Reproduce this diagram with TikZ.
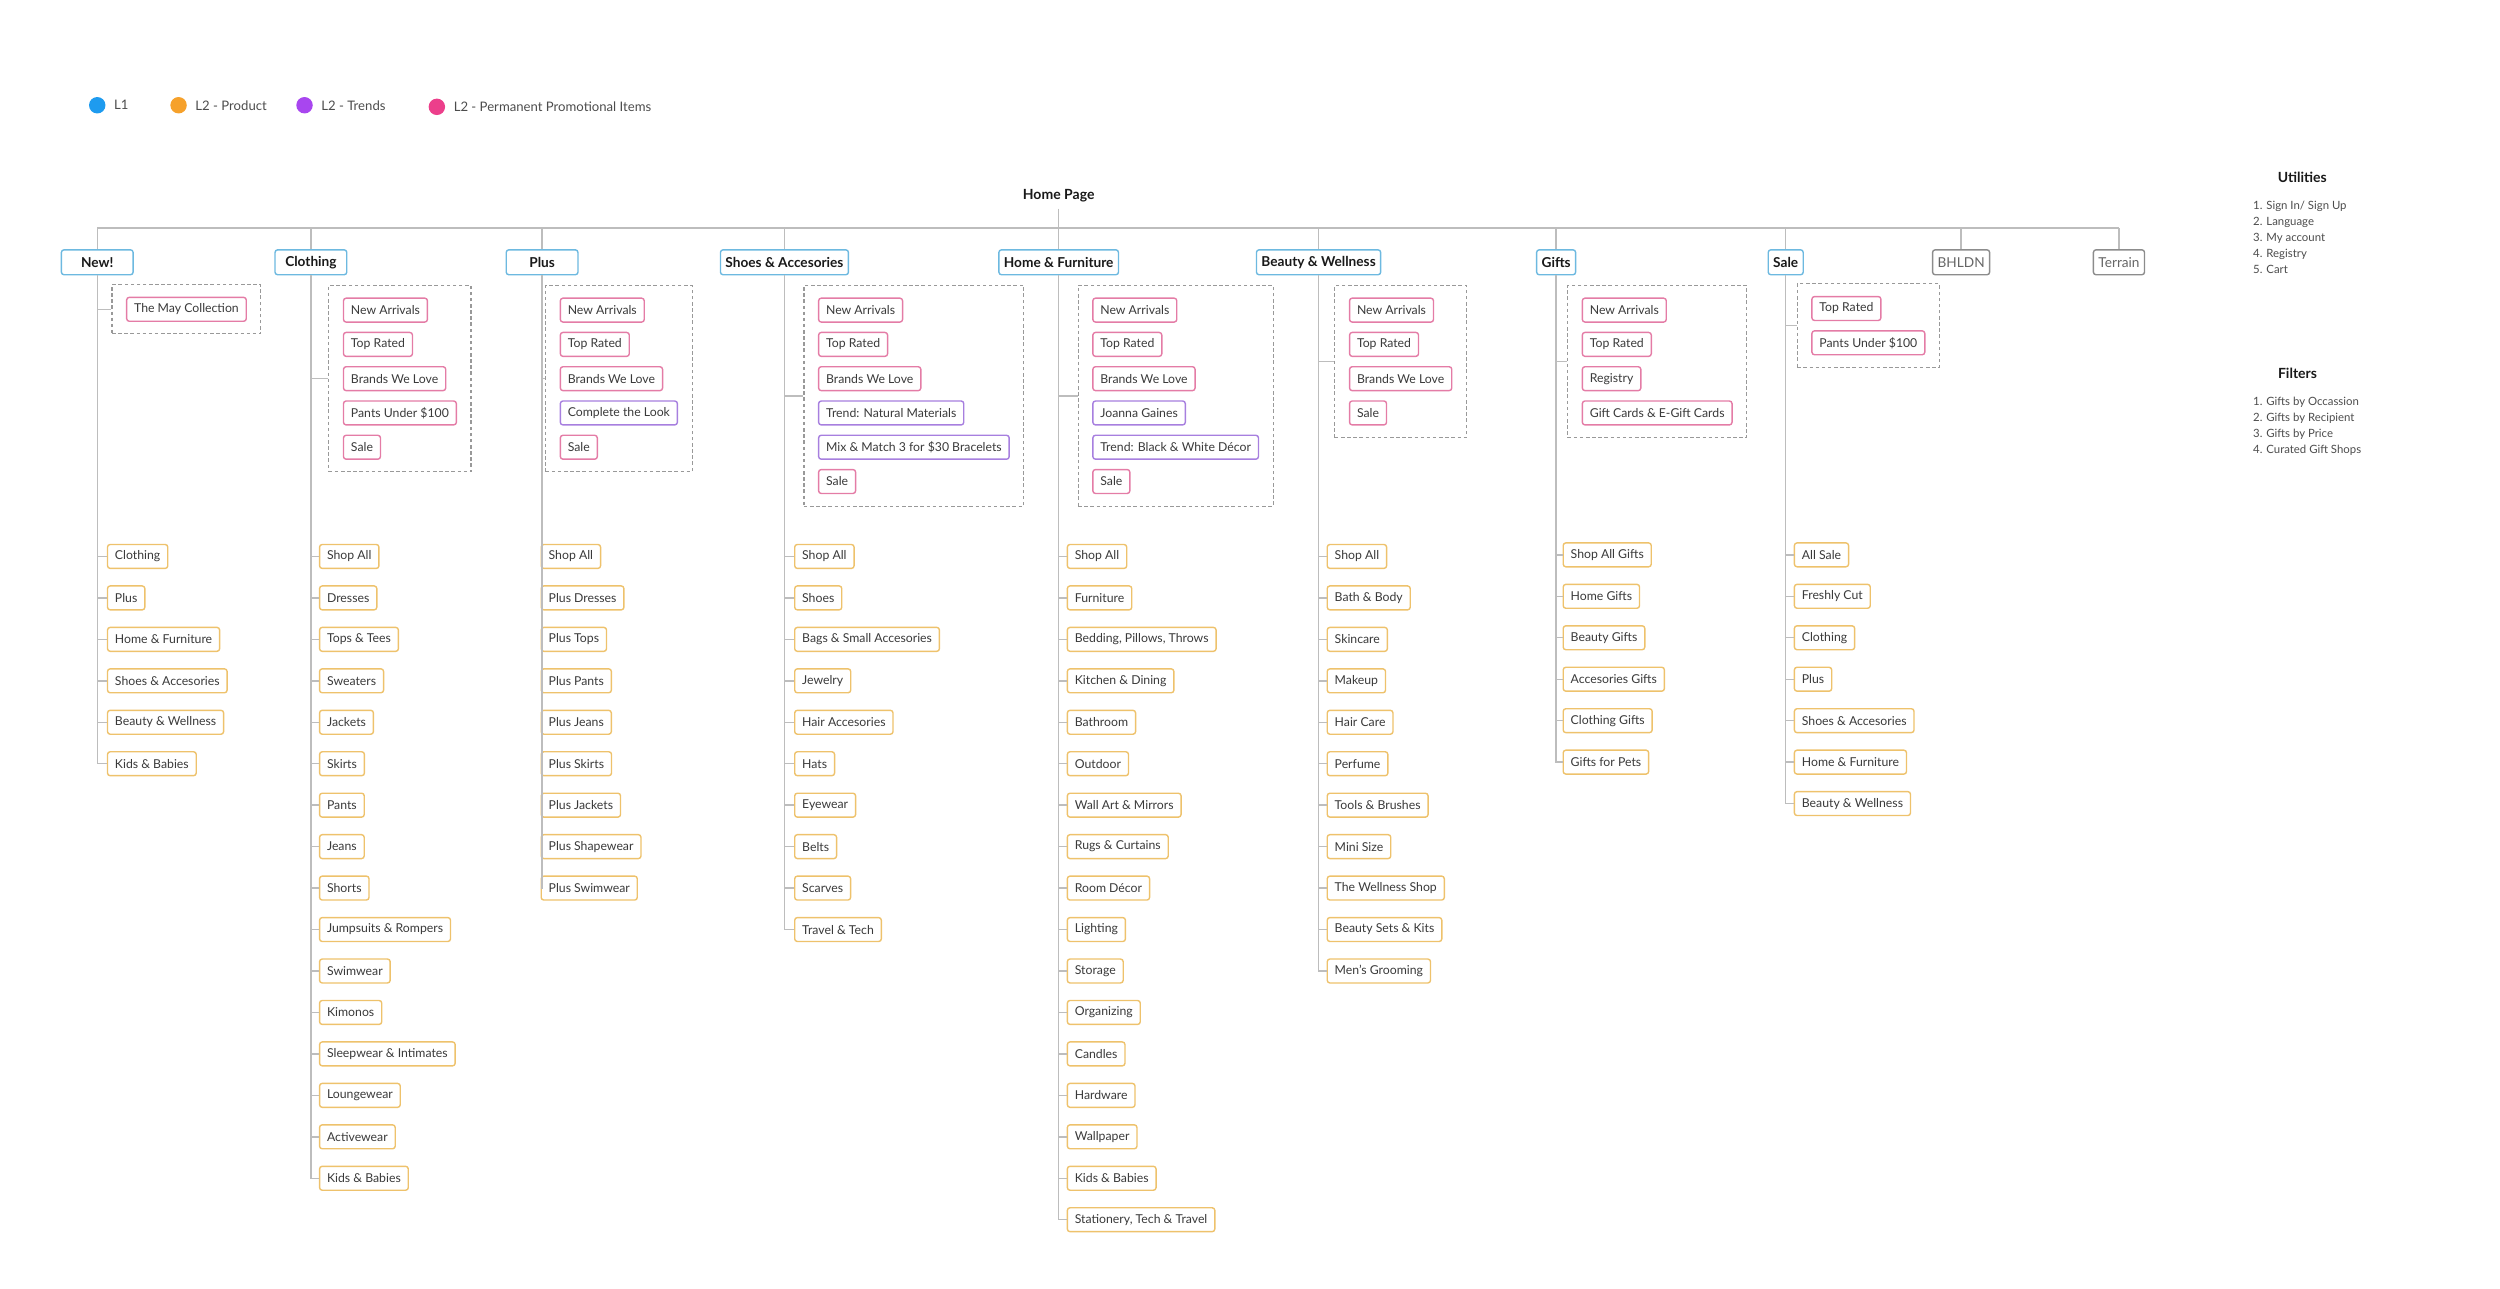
\documentclass[tikz,border=0pt]{standalone}
\usepackage{fontspec}
\setmainfont{Lato}
\usetikzlibrary{fit,positioning}

\definecolor{lonedot}{HTML}{1E9BEF}
\definecolor{proddot}{HTML}{F6A12B}
\definecolor{trenddot}{HTML}{A846EF}
\definecolor{promodot}{HTML}{EC3F8B}
\definecolor{loneline}{HTML}{6DB9E0}
\definecolor{prodline}{HTML}{EEC26C}
\definecolor{trendline}{HTML}{A77FDF}
\definecolor{promoline}{HTML}{E47CA6}
\definecolor{sideline}{HTML}{8C8C8C}
\definecolor{wire}{HTML}{BDBDBD}
\definecolor{ink}{HTML}{3A3A3A}

\begin{document}
\begin{tikzpicture}[x=0.032cm, y=-0.032cm,
  lone/.style={rectangle, rounded corners=1.5pt, draw=loneline, line width=0.8pt, fill=white, text=black!90, font=\bfseries\fontsize{7.8}{9}\selectfont, minimum height=0.5cm, inner xsep=0.1cm},
  wide/.style={lone, minimum width=1.44cm},
  side/.style={lone, draw=sideline, text=black!60, font=\fontsize{7.8}{9}\selectfont},
  item/.style={rectangle, rounded corners=1.5pt, draw=prodline, line width=0.8pt, fill=white, text=ink, font=\fontsize{7}{8}\selectfont, minimum height=0.48cm, inner xsep=0.15cm, anchor=west},
  promo/.style={item, draw=promoline},
  trend/.style={item, draw=trendline},
  group/.style={draw=black!40, line width=0.6pt, dash pattern=on 2pt off 1.5pt, inner xsep=0.28cm, inner ysep=0.24cm},
  link/.style={draw=wire, line width=0.8pt},
  dot/.style={circle, inner sep=0pt, minimum size=0.33cm},
  key/.style={text=black!70, font=\fontsize{7.5}{9}\selectfont, inner sep=0pt},
  head/.style={font=\bfseries\fontsize{8}{9}\selectfont, text=black!90},
  list/.style={font=\fontsize{6.5}{9.1}\selectfont, text=black!70, align=left, inner sep=0pt, anchor=north west}]
\useasboundingbox (0,0) rectangle (1568,808);

% legend
\node (dotlone) [dot, fill=lonedot] at (61,66) {};
\node (keylone) [key, right=0.16cm of dotlone] {L1};
\node (dotprod) [dot, fill=proddot] at (112,66) {};
\node (keyprod) [key, right=0.16cm of dotprod] {L2 - Product};
\node (dottrend) [dot, fill=trenddot] at (191,66) {};
\node (keytrend) [key, right=0.16cm of dottrend] {L2 - Trends};
\node (dotpromo) [dot, fill=promodot] at (274,67) {};
\node (keypromo) [key, right=0.16cm of dotpromo] {L2 - Permanent Promotional Items};

% utilities and filters
\node (utilhead) [head] at (1444,111) {Utilities};
\node (utillist) [list] at (1413,126) {1. Sign In/ Sign Up\\2. Language\\3. My account\\4. Registry\\5. Cart};
\node (filthead) [head] at (1441,234) {Filters};
\node (filtlist) [list] at (1413,249) {1. Gifts by Occassion\\2. Gifts by Recipient\\3. Gifts by Price\\4. Curated Gift Shops};

% top level
\node (home) [head] at (664,123) {Home Page};
\node (new) [wide] at (61,164.5) {New!};
\node (clothing) [wide] at (195,164.5) {Clothing};
\node (plus) [wide] at (340,164.5) {Plus};
\node (shoes) [lone] at (492,164.5) {Shoes \& Accesories};
\node (homefurn) [lone] at (664,164.5) {Home \& Furniture};
\node (beauty) [lone] at (827,164.5) {Beauty \& Wellness};
\node (gifts) [lone] at (976,164.5) {Gifts};
\node (sale) [lone] at (1120,164.5) {Sale};
\node (bhldn) [side] at (1230,164.5) {BHLDN};
\node (terrain) [side] at (1329,164.5) {Terrain};

\coordinate (bus) at (664,143);
\draw[link] (home.south) -- (bus);
\draw[link] (bus -| new) -- (bus -| terrain);
\draw[link] (bus -| new) -- (new.north) (bus -| clothing) -- (clothing.north)
  (bus -| plus) -- (plus.north) (bus -| shoes) -- (shoes.north)
  (bus -| beauty) -- (beauty.north) (bus -| gifts) -- (gifts.north)
  (bus -| sale) -- (sale.north) (bus -| bhldn) -- (bhldn.north)
  (bus -| terrain) -- (terrain.north);
\draw[link] (bus) -- (homefurn.north);

% promotional groups
\node (nm1) [promo] at (79,194) {The May Collection};
\node (newgroup) [group, fit=(nm1)] {};

\node (cp1) [promo] at (215,194.5) {New Arrivals};
\node (cp2) [promo] at (215,216) {Top Rated};
\node (cp3) [promo] at (215,237.5) {Brands We Love};
\node (cp4) [promo] at (215,259) {Pants Under \$100};
\node (cp5) [promo] at (215,280.5) {Sale};
\node (clogroup) [group, fit=(cp1)(cp2)(cp3)(cp4)(cp5)] {};

\node (pp1) [promo] at (351,194.5) {New Arrivals};
\node (pp2) [promo] at (351,216) {Top Rated};
\node (pp3) [promo] at (351,237.5) {Brands We Love};
\node (pp4) [trend] at (351,259) {Complete the Look};
\node (pp5) [promo] at (351,280.5) {Sale};
\node (plusgroup) [group, fit=(pp1)(pp2)(pp3)(pp4)(pp5)] {};

\node (sp1) [promo] at (513,194.5) {New Arrivals};
\node (sp2) [promo] at (513,216) {Top Rated};
\node (sp3) [promo] at (513,237.5) {Brands We Love};
\node (sp4) [trend] at (513,259) {Trend: Natural Materials};
\node (sp5) [trend] at (513,280.5) {Mix \& Match 3 for \$30 Bracelets};
\node (sp6) [promo] at (513,302) {Sale};
\node (shoegroup) [group, fit=(sp1)(sp2)(sp3)(sp4)(sp5)(sp6)] {};

\node (hp1) [promo] at (685,194.5) {New Arrivals};
\node (hp2) [promo] at (685,216) {Top Rated};
\node (hp3) [promo] at (685,237.5) {Brands We Love};
\node (hp4) [trend] at (685,259) {Joanna Gaines};
\node (hp5) [trend] at (685,280.5) {Trend: Black \& White Décor};
\node (hp6) [promo] at (685,302) {Sale};
\node (homegroup) [group, fit=(hp1)(hp2)(hp3)(hp4)(hp5)(hp6)] {};

\node (bp1) [promo] at (846,194.5) {New Arrivals};
\node (bp2) [promo] at (846,216) {Top Rated};
\node (bp3) [promo] at (846,237.5) {Brands We Love};
\node (bp4) [promo] at (846,259) {Sale};
\node (beautygroup) [group, fit=(bp1)(bp2)(bp3)(bp4)] {};

\node (gp1) [promo] at (992,194.5) {New Arrivals};
\node (gp2) [promo] at (992,216) {Top Rated};
\node (gp3) [promo] at (992,237.5) {Registry};
\node (gp4) [promo] at (992,259) {Gift Cards \& E-Gift Cards};
\node (giftgroup) [group, fit=(gp1)(gp2)(gp3)(gp4)] {};

\node (xp1) [promo] at (1136,193.5) {Top Rated};
\node (xp2) [promo] at (1136,215) {Pants Under \$100};
\node (salegroup) [group, fit=(xp1)(xp2)] {};

% product lists
\node (n1) [item] at (67,349) {Clothing};
\node (n2) [item] at (67,375) {Plus};
\node (n3) [item] at (67,401) {Home \& Furniture};
\node (n4) [item] at (67,427) {Shoes \& Accesories};
\node (n5) [item] at (67,453) {Beauty \& Wellness};
\node (n6) [item] at (67,479) {Kids \& Babies};

\node (c1) [item] at (200,349) {Shop All};
\node (c2) [item] at (200,375) {Dresses};
\node (c3) [item] at (200,401) {Tops \& Tees};
\node (c4) [item] at (200,427) {Sweaters};
\node (c5) [item] at (200,453) {Jackets};
\node (c6) [item] at (200,479) {Skirts};
\node (c7) [item] at (200,505) {Pants};
\node (c8) [item] at (200,531) {Jeans};
\node (c9) [item] at (200,557) {Shorts};
\node (c10) [item] at (200,583) {Jumpsuits \& Rompers};
\node (c11) [item] at (200,609) {Swimwear};
\node (c12) [item] at (200,635) {Kimonos};
\node (c13) [item] at (200,661) {Sleepwear \& Intimates};
\node (c14) [item] at (200,687) {Loungewear};
\node (c15) [item] at (200,713) {Activewear};
\node (c16) [item] at (200,739) {Kids \& Babies};

\node (p1) [item] at (339,349) {Shop All};
\node (p2) [item] at (339,375) {Plus Dresses};
\node (p3) [item] at (339,401) {Plus Tops};
\node (p4) [item] at (339,427) {Plus Pants};
\node (p5) [item] at (339,453) {Plus Jeans};
\node (p6) [item] at (339,479) {Plus Skirts};
\node (p7) [item] at (339,505) {Plus Jackets};
\node (p8) [item] at (339,531) {Plus Shapewear};
\node (p9) [item] at (339,557) {Plus Swimwear};

\node (s1) [item] at (498,349) {Shop All};
\node (s2) [item] at (498,375) {Shoes};
\node (s3) [item] at (498,401) {Bags \& Small Accesories};
\node (s4) [item] at (498,427) {Jewelry};
\node (s5) [item] at (498,453) {Hair Accesories};
\node (s6) [item] at (498,479) {Hats};
\node (s7) [item] at (498,505) {Eyewear};
\node (s8) [item] at (498,531) {Belts};
\node (s9) [item] at (498,557) {Scarves};
\node (s10) [item] at (498,583) {Travel \& Tech};

\node (h1) [item] at (669,349) {Shop All};
\node (h2) [item] at (669,375) {Furniture};
\node (h3) [item] at (669,401) {Bedding, Pillows, Throws};
\node (h4) [item] at (669,427) {Kitchen \& Dining};
\node (h5) [item] at (669,453) {Bathroom};
\node (h6) [item] at (669,479) {Outdoor};
\node (h7) [item] at (669,505) {Wall Art \& Mirrors};
\node (h8) [item] at (669,531) {Rugs \& Curtains};
\node (h9) [item] at (669,557) {Room Décor};
\node (h10) [item] at (669,583) {Lighting};
\node (h11) [item] at (669,609) {Storage};
\node (h12) [item] at (669,635) {Organizing};
\node (h13) [item] at (669,661) {Candles};
\node (h14) [item] at (669,687) {Hardware};
\node (h15) [item] at (669,713) {Wallpaper};
\node (h16) [item] at (669,739) {Kids \& Babies};
\node (h17) [item] at (669,765) {Stationery, Tech \& Travel};

\node (b1) [item] at (832,349) {Shop All};
\node (b2) [item] at (832,375) {Bath \& Body};
\node (b3) [item] at (832,401) {Skincare};
\node (b4) [item] at (832,427) {Makeup};
\node (b5) [item] at (832,453) {Hair Care};
\node (b6) [item] at (832,479) {Perfume};
\node (b7) [item] at (832,505) {Tools \& Brushes};
\node (b8) [item] at (832,531) {Mini Size};
\node (b9) [item] at (832,557) {The Wellness Shop};
\node (b10) [item] at (832,583) {Beauty Sets \& Kits};
\node (b11) [item] at (832,609) {Men’s Grooming};

\node (g1) [item] at (980,348) {Shop All Gifts};
\node (g2) [item] at (980,374) {Home Gifts};
\node (g3) [item] at (980,400) {Beauty Gifts};
\node (g4) [item] at (980,426) {Accesories Gifts};
\node (g5) [item] at (980,452) {Clothing Gifts};
\node (g6) [item] at (980,478) {Gifts for Pets};

\node (x1) [item] at (1125,348) {All Sale};
\node (x2) [item] at (1125,374) {Freshly Cut};
\node (x3) [item] at (1125,400) {Clothing};
\node (x4) [item] at (1125,426) {Plus};
\node (x5) [item] at (1125,452) {Shoes \& Accesories};
\node (x6) [item] at (1125,478) {Home \& Furniture};
\node (x7) [item] at (1125,504) {Beauty \& Wellness};

% stems
\draw[link] (new.south) |- (n6.west);
\draw[link] (new.south |- newgroup.west) -- (newgroup.west)
  (new.south |- n1.west) -- (n1.west) (new.south |- n2.west) -- (n2.west)
  (new.south |- n3.west) -- (n3.west) (new.south |- n4.west) -- (n4.west)
  (new.south |- n5.west) -- (n5.west);

\draw[link] (clothing.south) |- (c16.west);
\draw[link] (clothing.south |- clogroup.west) -- (clogroup.west)
  (clothing.south |- c1.west) -- (c1.west) (clothing.south |- c2.west) -- (c2.west)
  (clothing.south |- c3.west) -- (c3.west) (clothing.south |- c4.west) -- (c4.west)
  (clothing.south |- c5.west) -- (c5.west) (clothing.south |- c6.west) -- (c6.west)
  (clothing.south |- c7.west) -- (c7.west) (clothing.south |- c8.west) -- (c8.west)
  (clothing.south |- c9.west) -- (c9.west) (clothing.south |- c10.west) -- (c10.west)
  (clothing.south |- c11.west) -- (c11.west) (clothing.south |- c12.west) -- (c12.west)
  (clothing.south |- c13.west) -- (c13.west) (clothing.south |- c14.west) -- (c14.west)
  (clothing.south |- c15.west) -- (c15.west);

\draw[link] (plus.south) |- (p9.west);
\draw[link] (plus.south |- plusgroup.west) -- (plusgroup.west)
  (plus.south |- p1.west) -- (p1.west) (plus.south |- p2.west) -- (p2.west)
  (plus.south |- p3.west) -- (p3.west) (plus.south |- p4.west) -- (p4.west)
  (plus.south |- p5.west) -- (p5.west) (plus.south |- p6.west) -- (p6.west)
  (plus.south |- p7.west) -- (p7.west) (plus.south |- p8.west) -- (p8.west);

\draw[link] (shoes.south) |- (s10.west);
\draw[link] (shoes.south |- shoegroup.west) -- (shoegroup.west)
  (shoes.south |- s1.west) -- (s1.west) (shoes.south |- s2.west) -- (s2.west)
  (shoes.south |- s3.west) -- (s3.west) (shoes.south |- s4.west) -- (s4.west)
  (shoes.south |- s5.west) -- (s5.west) (shoes.south |- s6.west) -- (s6.west)
  (shoes.south |- s7.west) -- (s7.west) (shoes.south |- s8.west) -- (s8.west)
  (shoes.south |- s9.west) -- (s9.west);

\draw[link] (homefurn.south) |- (h17.west);
\draw[link] (homefurn.south |- homegroup.west) -- (homegroup.west)
  (homefurn.south |- h1.west) -- (h1.west) (homefurn.south |- h2.west) -- (h2.west)
  (homefurn.south |- h3.west) -- (h3.west) (homefurn.south |- h4.west) -- (h4.west)
  (homefurn.south |- h5.west) -- (h5.west) (homefurn.south |- h6.west) -- (h6.west)
  (homefurn.south |- h7.west) -- (h7.west) (homefurn.south |- h8.west) -- (h8.west)
  (homefurn.south |- h9.west) -- (h9.west) (homefurn.south |- h10.west) -- (h10.west)
  (homefurn.south |- h11.west) -- (h11.west) (homefurn.south |- h12.west) -- (h12.west)
  (homefurn.south |- h13.west) -- (h13.west) (homefurn.south |- h14.west) -- (h14.west)
  (homefurn.south |- h15.west) -- (h15.west) (homefurn.south |- h16.west) -- (h16.west);

\draw[link] (beauty.south) |- (b11.west);
\draw[link] (beauty.south |- beautygroup.west) -- (beautygroup.west)
  (beauty.south |- b1.west) -- (b1.west) (beauty.south |- b2.west) -- (b2.west)
  (beauty.south |- b3.west) -- (b3.west) (beauty.south |- b4.west) -- (b4.west)
  (beauty.south |- b5.west) -- (b5.west) (beauty.south |- b6.west) -- (b6.west)
  (beauty.south |- b7.west) -- (b7.west) (beauty.south |- b8.west) -- (b8.west)
  (beauty.south |- b9.west) -- (b9.west) (beauty.south |- b10.west) -- (b10.west);

\draw[link] (gifts.south) |- (g6.west);
\draw[link] (gifts.south |- giftgroup.west) -- (giftgroup.west)
  (gifts.south |- g1.west) -- (g1.west) (gifts.south |- g2.west) -- (g2.west)
  (gifts.south |- g3.west) -- (g3.west) (gifts.south |- g4.west) -- (g4.west)
  (gifts.south |- g5.west) -- (g5.west);

\draw[link] (sale.south) |- (x7.west);
\draw[link] (sale.south |- salegroup.west) -- (salegroup.west)
  (sale.south |- x1.west) -- (x1.west) (sale.south |- x2.west) -- (x2.west)
  (sale.south |- x3.west) -- (x3.west) (sale.south |- x4.west) -- (x4.west)
  (sale.south |- x5.west) -- (x5.west) (sale.south |- x6.west) -- (x6.west);
\end{tikzpicture}
\end{document}
